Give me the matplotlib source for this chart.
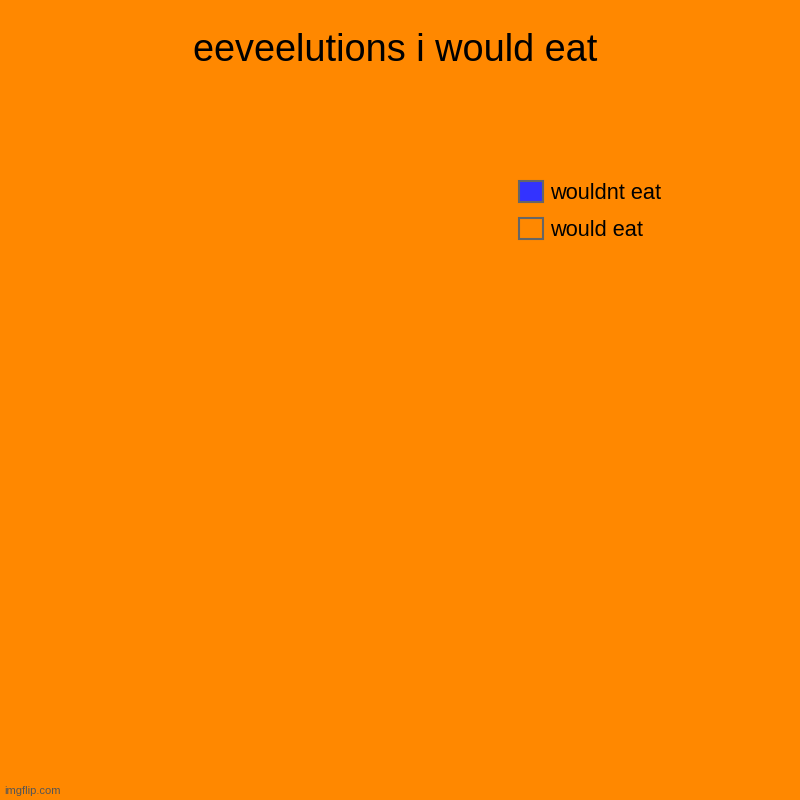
import matplotlib
matplotlib.use("Agg")
from matplotlib import pyplot as plt
from matplotlib.patches import Patch

plt.rcParams["font.family"] = ["Liberation Sans", "DejaVu Sans"]

# chart data
labels = ["wouldnt eat", "would eat"]
values = [0, 8]
colors = ["#3333ff", "#ff8800"]

title = "eeveelutions i would eat"
bg = "#ff8800"

fig = plt.figure(figsize=(8, 8), dpi=100, facecolor=bg)
ax = fig.add_axes([0.125, 0.1, 0.55, 0.75])
ax.set_facecolor(bg)

wedges, _ = ax.pie(values, colors=colors, startangle=90, counterclock=False,
                   wedgeprops={"linewidth": 0})
ax.set_aspect("equal")
ax.axis("off")

fig.text(0.494, 0.936, title, ha="center", va="center", fontsize=27.3, color="black")

handles = [Patch(facecolor=c, edgecolor="#666666", linewidth=1.5) for c in colors]
leg = fig.legend(handles, labels, loc="upper left", bbox_to_anchor=(0.649, 0.774),
                 frameon=False, fontsize=15.7, handlelength=1.1, handleheight=1.1,
                 handletextpad=0.3, labelspacing=0.66, borderaxespad=0, borderpad=0)

fig.text(0.005, 0.011, "imgflip.com", ha="left", va="center", fontsize=8, color="#555555")

fig.savefig("out.png", dpi=100, facecolor=bg)
